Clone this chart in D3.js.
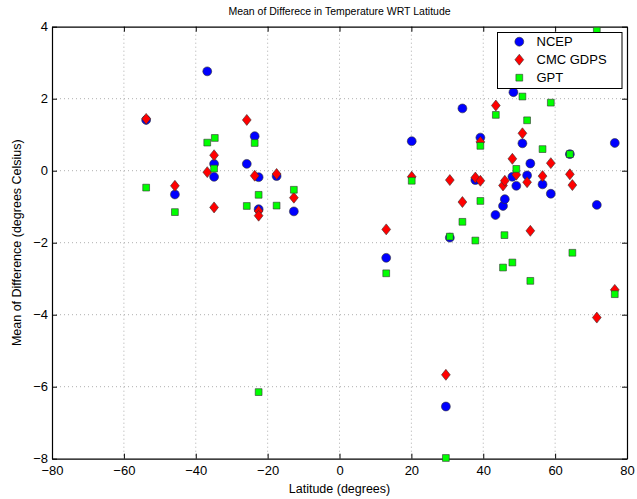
<!DOCTYPE html>
<html>
<head>
<meta charset="utf-8">
<title>Mean of Differece in Temperature WRT Latitude</title>
<script src="https://cdn.jsdelivr.net/npm/d3@7"></script>
<style>
	body { margin: 0; background: #fff; }
	text { font-family: "Liberation Sans", Arial, Helvetica, sans-serif; fill: #000; }
</style>
</head>
<body>
<script>
// NCEP
var ncepLat = [-53.8, -45.8, -36.8, -34.9, -34.9, -25.8, -23.6, -22.5, -22.5, -17.5, -12.7,
	13.0, 20.1, 29.6, 30.7, 34.2, 37.8, 39.2, 43.4, 45.5, 46.0, 48.1, 48.4, 49.2, 50.9,
	52.2, 53.1, 56.5, 58.8, 64.1, 71.6, 76.6];
var ncepVal = [1.41, -0.66, 2.76, 0.19, -0.17, 0.19, 0.96, -0.18, -1.07, -0.15, -1.13,
	-2.42, 0.82, -6.55, -1.86, 1.73, -0.26, 0.92, -1.23, -0.98, -0.79, -0.17, 2.18, -0.42, 0.76,
	-0.13, 0.2, -0.38, -0.64, 0.46, -0.95, 0.77];
// CMC GDPS
var cmcLat = [-53.8, -45.8, -36.8, -34.9, -34.9, -25.8, -23.6, -22.5, -22.5, -17.5, -12.7,
	13.0, 20.1, 29.6, 30.7, 34.2, 37.8, 39.2, 39.2, 43.5, 45.5, 46.0, 48.1, 49.2, 50.9,
	52.2, 53.1, 56.5, 58.8, 64.1, 64.8, 71.6, 76.6];
var cmcVal = [1.44, -0.42, -0.04, 0.43, -1.02, 1.41, -0.14, -1.12, -1.25, -0.09, -0.75,
	-1.63, -0.17, -5.67, -0.26, -0.87, -0.19, 0.8, -0.28, 1.81, -0.41, -0.28, 0.33, -0.11, 1.04,
	-0.32, -1.67, -0.15, 0.21, -0.1, -0.4, -4.08, -3.31];
// GPT
var gptLat = [-53.8, -45.8, -36.8, -34.7, -34.9, -25.8, -23.6, -22.5, -22.5, -17.5, -12.7,
	13.0, 20.1, 29.6, 30.7, 34.2, 37.8, 39.2, 39.2, 43.5, 45.5, 45.9, 48.1, 49.2, 50.9,
	52.2, 53.1, 56.5, 58.8, 64.1, 64.8, 71.6, 76.6];
var gptVal = [-0.47, -1.15, 0.78, 0.91, 0.06, -0.98, 0.77, -0.67, -6.15, -0.97, -0.53,
	-2.85, -0.28, -7.98, -1.83, -1.42, -1.94, 0.69, -0.84, 1.55, -2.69, -1.79, -2.55, 0.05, 2.06,
	1.40, -3.06, 0.60, 1.89, 0.46, -2.28, 3.89, -3.43];

var seriesNames = ["NCEP", "CMC GDPS", "GPT"];
var xTicks = [-80, -60, -40, -20, 0, 20, 40, 60, 80];
var yTicks = [-8, -6, -4, -2, 0, 2, 4];

var W = 637, H = 499;
var pL = 52, pR = 627, pT = 26.7, pB = 458.7;

var svg = d3.select("body").append("svg")
	.attr("width", W)
	.attr("height", H);

var x = d3.scaleLinear().domain([-80, 80]).range([pL, pR]);
var y = d3.scaleLinear().domain([-8, 4]).range([pB, pT]);

// grid
svg.append("g").selectAll("line")
	.data(xTicks.slice(1, -1))
	.enter().append("line")
	.attr("x1", function (d) { return x(d); })
	.attr("x2", function (d) { return x(d); })
	.attr("y1", pT).attr("y2", pB)
	.attr("stroke", "#999").attr("stroke-width", 0.8)
	.attr("stroke-dasharray", "1,3");
svg.append("g").selectAll("line")
	.data(yTicks.slice(1, -1))
	.enter().append("line")
	.attr("y1", function (d) { return y(d); })
	.attr("y2", function (d) { return y(d); })
	.attr("x1", pL).attr("x2", pR)
	.attr("stroke", "#999").attr("stroke-width", 0.8)
	.attr("stroke-dasharray", "1,3");

function fmt(d) { return d < 0 ? "\u2212" + Math.abs(d) : String(d); }

// axes (ticks inward, mirrored on top/right)
var xb = svg.append("g").attr("transform", "translate(0," + pB + ")")
	.call(d3.axisBottom(x).tickValues(xTicks).tickSizeInner(-5).tickSizeOuter(0).tickFormat(fmt));
var xt = svg.append("g").attr("transform", "translate(0," + pT + ")")
	.call(d3.axisTop(x).tickValues(xTicks).tickSizeInner(-5).tickSizeOuter(0).tickFormat(""));
var yl = svg.append("g").attr("transform", "translate(" + pL + ",0)")
	.call(d3.axisLeft(y).tickValues(yTicks).tickSizeInner(-5).tickSizeOuter(0).tickFormat(fmt));
var yr = svg.append("g").attr("transform", "translate(" + pR + ",0)")
	.call(d3.axisRight(y).tickValues(yTicks).tickSizeInner(-5).tickSizeOuter(0).tickFormat(""));
[xb, xt, yl, yr].forEach(function (g) {
	g.select(".domain").attr("stroke", "#000").attr("stroke-width", 1.2);
	g.selectAll(".tick line").attr("stroke", "#000");
	g.selectAll("text").attr("font-size", 13).attr("fill", "#000")
		.attr("font-family", "Liberation Sans, Arial, sans-serif");
});
xb.selectAll("text").attr("dy", "0.71em").attr("y", 7);
yl.selectAll("text").attr("x", -4);

// matlab-like diamond, a bit wider than d3's
var diamond = {
	draw: function (ctx, size) {
		var h = Math.sqrt(size) * 0.72, w = h * 0.8;
		ctx.moveTo(0, -h);
		ctx.lineTo(w, 0);
		ctx.lineTo(0, h);
		ctx.lineTo(-w, 0);
		ctx.closePath();
	}
};

// markers
var edge = "#333";
var styles = [
	{ sym: d3.symbolCircle, size: 62, fill: "#0000ff" },
	{ sym: diamond, size: 58, fill: "#ff0000" },
	{ sym: d3.symbolSquare, size: 46, fill: "#00ff00" }
];
function drawSeries(lat, val, st) {
	var pts = lat.map(function (d, i) { return [d, val[i]]; });
	svg.append("g").selectAll("path")
		.data(pts)
		.enter().append("path")
		.attr("d", d3.symbol().type(st.sym).size(st.size))
		.attr("transform", function (d) {
			return "translate(" + x(d[0]) + "," + y(d[1]) + ")";
		})
		.attr("fill", st.fill)
		.attr("stroke", edge)
		.attr("stroke-width", 0.6);
}
drawSeries(ncepLat, ncepVal, styles[0]);
drawSeries(cmcLat, cmcVal, styles[1]);
drawSeries(gptLat, gptVal, styles[2]);

// legend
var lg = svg.append("g");
lg.append("rect")
	.attr("x", 497.5).attr("y", 32.5)
	.attr("width", 124.5).attr("height", 56)
	.attr("fill", "#fff").attr("stroke", "#000").attr("stroke-width", 1);
seriesNames.forEach(function (name, i) {
	var yy = 41.7 + i * 18;
	var st = styles[i];
	lg.append("path")
		.attr("d", d3.symbol().type(st.sym).size(st.size))
		.attr("transform", "translate(519.3," + yy + ")")
		.attr("fill", st.fill).attr("stroke", edge).attr("stroke-width", 0.6);
	lg.append("text")
		.attr("x", 536.5).attr("y", yy)
		.attr("dy", "0.36em")
		.attr("font-size", 13)
		.text(name);
});

// labels
svg.append("text")
	.attr("x", (pL + pR) / 2).attr("y", 15)
	.attr("text-anchor", "middle")
	.attr("font-size", 10.5)
	.text("Mean of Differece in Temperature WRT Latitude");
svg.append("text")
	.attr("x", (pL + pR) / 2).attr("y", 493)
	.attr("text-anchor", "middle")
	.attr("font-size", 12.5)
	.text("Latitude (degrees)");
svg.append("text")
	.attr("transform", "translate(21," + ((pT + pB) / 2) + ") rotate(-90)")
	.attr("text-anchor", "middle")
	.attr("font-size", 12.5)
	.text("Mean of Difference (degrees Celsius)");
</script>
</body>
</html>
